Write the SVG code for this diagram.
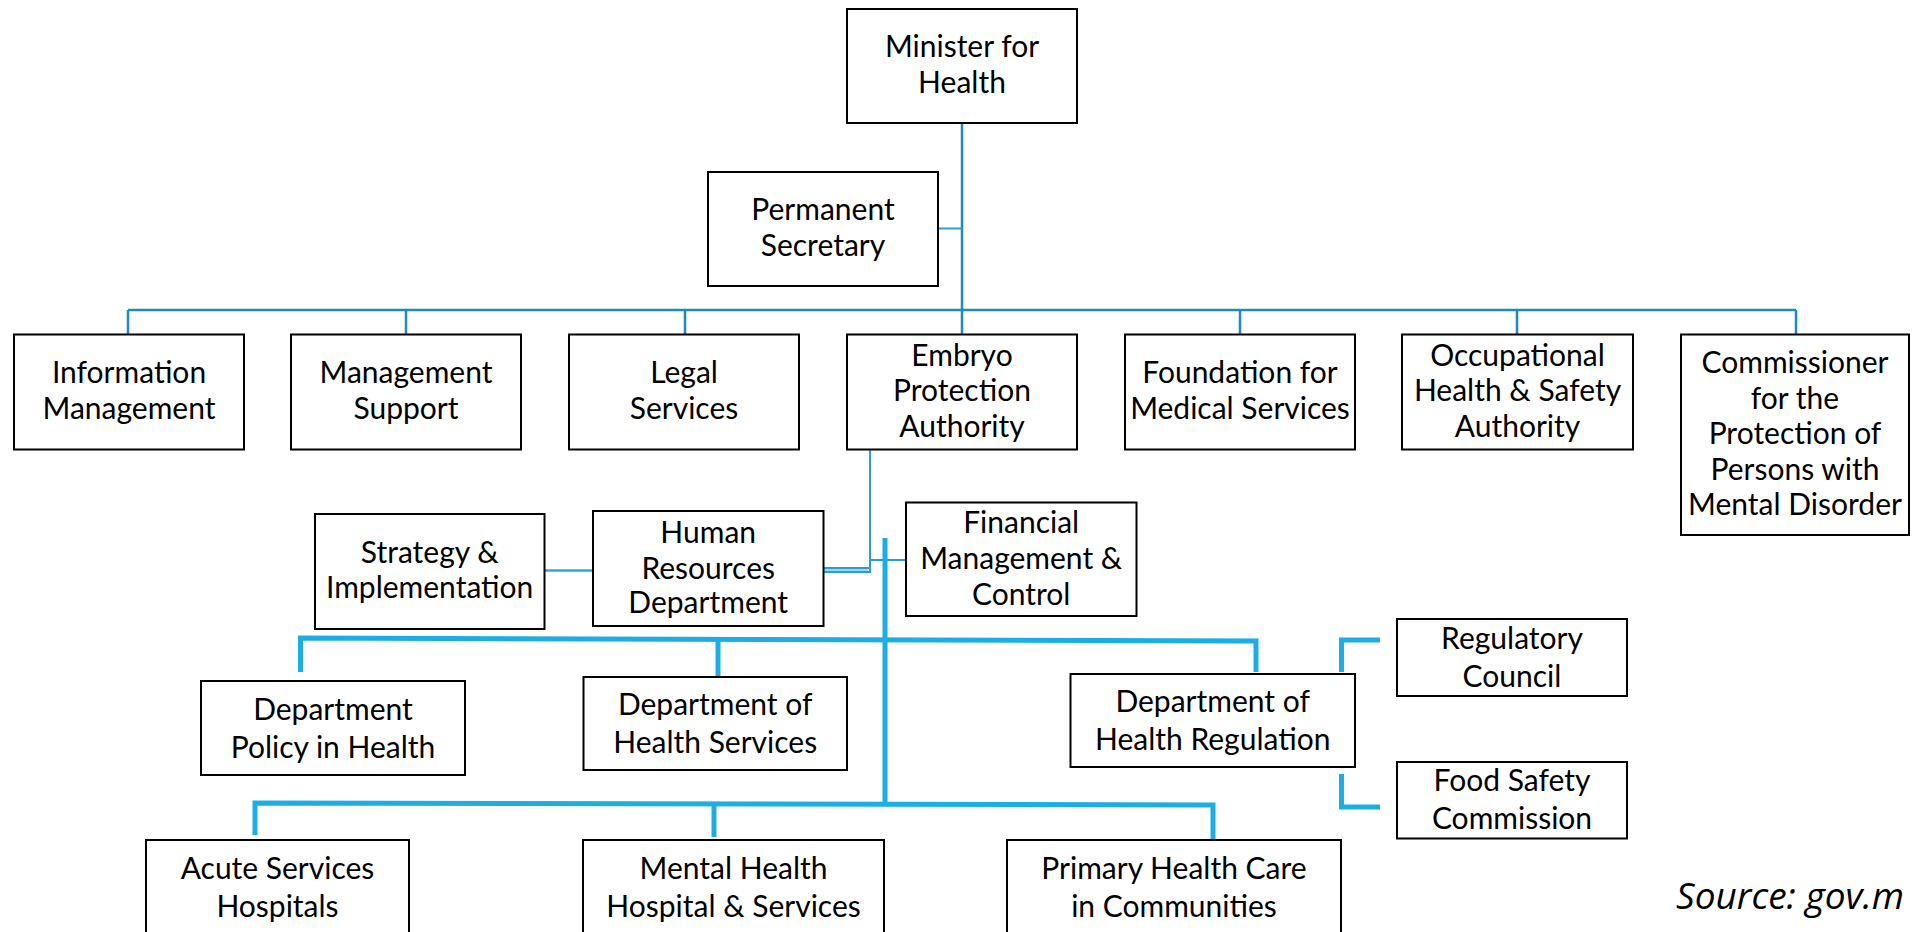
<svg xmlns="http://www.w3.org/2000/svg" width="1914" height="932" viewBox="0 0 1914 932">
  <style>
    .box { fill: #ffffff; stroke: #000000; stroke-width: 2; }
    .t { font-family: Lato, "Open Sans", "Liberation Sans", sans-serif; font-size: 30px; fill: #000000; text-anchor: middle; }
    .src { font-family: "Open Sans", Lato, "Liberation Sans", sans-serif; font-size: 37px; font-style: italic; fill: #000000; }
    .upper { fill: none; stroke: #1e8bc0; stroke-width: 2.5; }
    .thin { fill: none; stroke: #2a9fd4; stroke-width: 2; }
    .light { fill: none; stroke: #29abe2; stroke-width: 2.5; }
    .thick { fill: none; stroke: #1cade4; stroke-width: 5; }
  </style>
  <rect width="1914" height="932" fill="#ffffff"/>

  <!-- connectors -->
  <g id="connectors">
    <!-- minister spine and top-level bus -->
    <path class="upper" d="M962 123 V311"/>
    <path class="thin" d="M938 228.5 H962"/>
    <path class="upper" d="M128 310 H1796"/>
    <path class="upper" d="M128 310 V335 M406 310 V335 M685 310 V335 M962 310 V335 M1240 310 V335 M1517 310 V335 M1796 310 V335"/>
    <!-- embryo authority down to the HR link -->
    <path class="thin" d="M870 450 V572"/>
    <path class="thin" d="M823 568 H870"/>
    <path stroke="#7cc6ea" stroke-width="1.5" d="M823 570 H868"/>
    <path class="thin" d="M823 572 H871"/>
    <path class="thin" d="M870 560 H906"/>
    <path class="light" d="M544 570.5 H593"/>
    <!-- departmental trunk -->
    <path class="thick" d="M885 538 V805"/>
    <path class="thick" d="M300.5 672 V638 L1256 641 V672"/>
    <path class="thick" d="M718 640 V677"/>
    <path class="thick" d="M1380 640 H1341.5 V672"/>
    <path class="thick" d="M1341.5 774 V807 H1380"/>
    <path class="thick" d="M255 835 V803 L1213 805 V840"/>
    <path class="thick" d="M714 804 V837"/>
  </g>

  <g id="minister">
    <rect class="box" x="847" y="9" width="230" height="114"/>
    <text class="t" x="962" y="57">Minister for</text>
    <text class="t" x="962" y="93">Health</text>
  </g>
  <g id="permanent-secretary">
    <rect class="box" x="708" y="172" width="230" height="114"/>
    <text class="t" x="823" y="220">Permanent</text>
    <text class="t" x="823" y="256">Secretary</text>
  </g>

  <g id="information-management">
    <rect class="box" x="14" y="334.5" width="230" height="115"/>
    <text class="t" x="129" y="383">Information</text>
    <text class="t" x="129" y="419">Management</text>
  </g>
  <g id="management-support">
    <rect class="box" x="291" y="334.5" width="230" height="115"/>
    <text class="t" x="406" y="383">Management</text>
    <text class="t" x="406" y="419">Support</text>
  </g>
  <g id="legal-services">
    <rect class="box" x="569" y="334.5" width="230" height="115"/>
    <text class="t" x="684" y="383">Legal</text>
    <text class="t" x="684" y="419">Services</text>
  </g>
  <g id="embryo-protection">
    <rect class="box" x="847" y="334.5" width="230" height="115"/>
    <text class="t" x="962" y="366">Embryo</text>
    <text class="t" x="962" y="401">Protection</text>
    <text class="t" x="962" y="436.5">Authority</text>
  </g>
  <g id="foundation-medical">
    <rect class="box" x="1125" y="334.5" width="230" height="115"/>
    <text class="t" x="1240" y="383">Foundation for</text>
    <text class="t" x="1240" y="419">Medical Services</text>
  </g>
  <g id="ohs-authority">
    <rect class="box" x="1402" y="334.5" width="231" height="115"/>
    <text class="t" x="1517.5" y="366">Occupational</text>
    <text class="t" x="1517.5" y="401">Health &amp; Safety</text>
    <text class="t" x="1517.5" y="436.5">Authority</text>
  </g>
  <g id="commissioner">
    <rect class="box" x="1681" y="334.5" width="228" height="200.5"/>
    <text class="t" x="1795" y="373">Commissioner</text>
    <text class="t" x="1795" y="408.5">for the</text>
    <text class="t" x="1795" y="444">Protection of</text>
    <text class="t" x="1795" y="479.5">Persons with</text>
    <text class="t" x="1795" y="515">Mental Disorder</text>
  </g>

  <g id="strategy">
    <rect class="box" x="315" y="514" width="229.5" height="115"/>
    <text class="t" x="429.7" y="562.5">Strategy &amp;</text>
    <text class="t" x="429.7" y="598">Implementation</text>
  </g>
  <g id="human-resources">
    <rect class="box" x="593" y="511" width="230.5" height="115"/>
    <text class="t" x="708.2" y="543">Human</text>
    <text class="t" x="708.2" y="578.5">Resources</text>
    <text class="t" x="708.2" y="613">Department</text>
  </g>
  <g id="financial-management">
    <rect class="box" x="906" y="502.5" width="230.5" height="113.5"/>
    <text class="t" x="1021.2" y="533">Financial</text>
    <text class="t" x="1021.2" y="568.5">Management &amp;</text>
    <text class="t" x="1021.2" y="605">Control</text>
  </g>

  <g id="policy-in-health">
    <rect class="box" x="201" y="681" width="264" height="94"/>
    <text class="t" x="333" y="720">Department</text>
    <text class="t" x="333" y="758">Policy in Health</text>
  </g>
  <g id="health-services">
    <rect class="box" x="583.5" y="677" width="263.5" height="93"/>
    <text class="t" x="715.2" y="715">Department of</text>
    <text class="t" x="715.2" y="753">Health Services</text>
  </g>
  <g id="health-regulation">
    <rect class="box" x="1070.5" y="674" width="284.5" height="93"/>
    <text class="t" x="1212.7" y="711.5">Department of</text>
    <text class="t" x="1212.7" y="749.5">Health Regulation</text>
  </g>
  <g id="regulatory-council">
    <rect class="box" x="1397" y="619" width="230" height="77"/>
    <text class="t" x="1512" y="649">Regulatory</text>
    <text class="t" x="1512" y="687">Council</text>
  </g>
  <g id="food-safety">
    <rect class="box" x="1397" y="762" width="230" height="76.5"/>
    <text class="t" x="1512" y="790.5">Food Safety</text>
    <text class="t" x="1512" y="828.5">Commission</text>
  </g>

  <g id="acute-services">
    <rect class="box" x="146" y="840" width="263" height="100"/>
    <text class="t" x="277.5" y="879">Acute Services</text>
    <text class="t" x="277.5" y="917">Hospitals</text>
  </g>
  <g id="mental-health">
    <rect class="box" x="583" y="840" width="301" height="100"/>
    <text class="t" x="733.5" y="879">Mental Health</text>
    <text class="t" x="733.5" y="917">Hospital &amp; Services</text>
  </g>
  <g id="primary-care">
    <rect class="box" x="1007" y="840" width="334" height="100"/>
    <text class="t" x="1174" y="879">Primary Health Care</text>
    <text class="t" x="1174" y="917">in Communities</text>
  </g>

  <text class="src" x="1676" y="909">Source: gov.m</text>
</svg>
